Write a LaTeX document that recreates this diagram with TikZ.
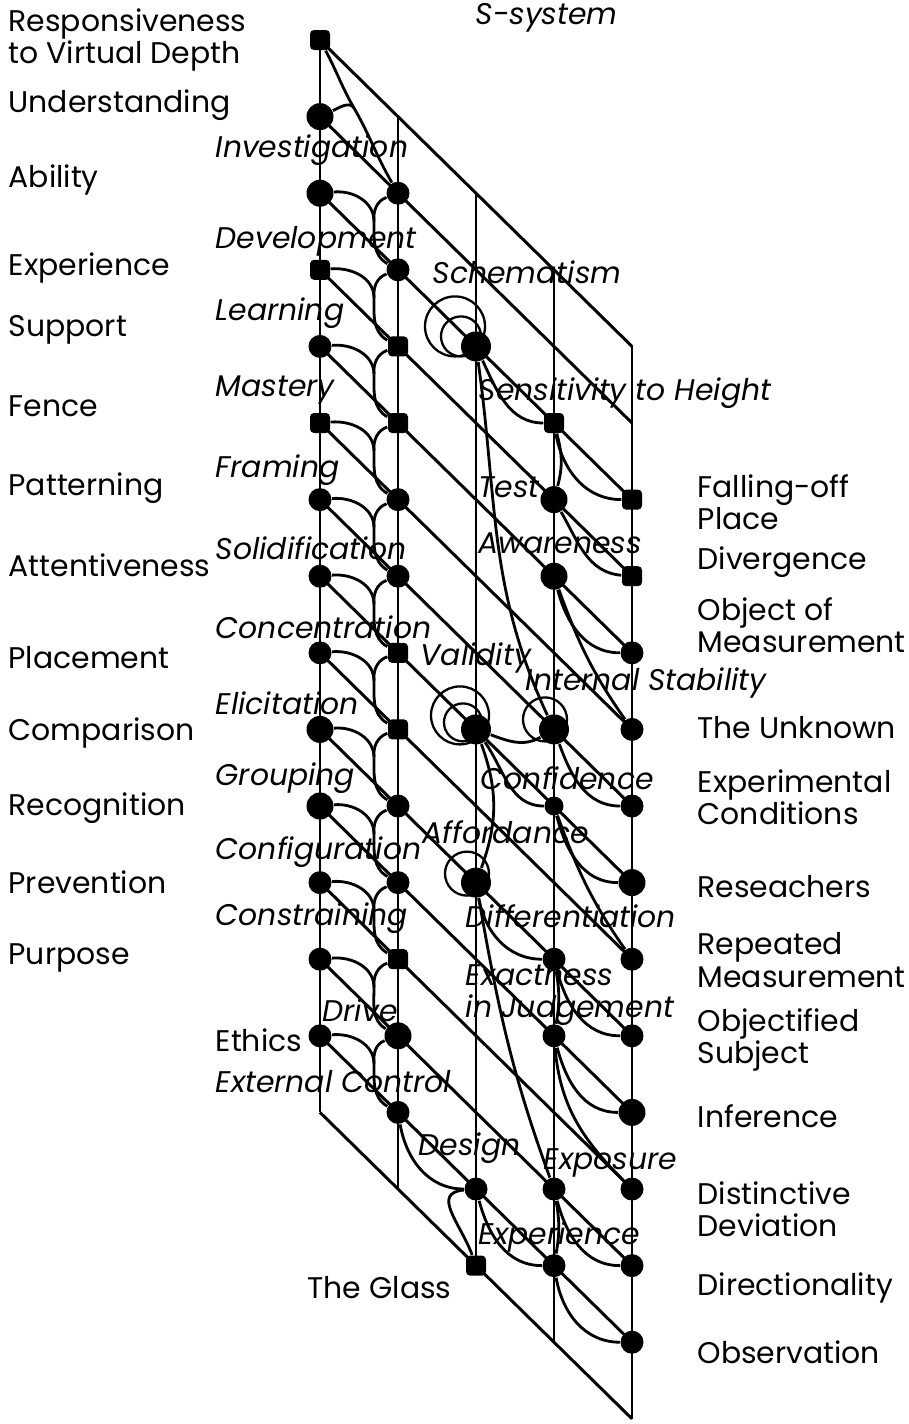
\documentclass[tikz,border=0pt]{standalone}
\usepackage{fontspec}
\setmainfont{Poppins}

\tikzset{
  grid line/.style={line width=0.85pt},
  wire/.style={line width=0.8pt},
  ring/.style={line width=0.65pt},
  dot/.style={circle,fill=black,inner sep=0pt,minimum size=2.3mm},
  big/.style={dot,minimum size=2.7mm},
  hub/.style={dot,minimum size=3mm},
  sq/.style={rectangle,fill=black,inner sep=0pt,minimum size=2mm,rounded corners=0.4mm},
  lab/.style={font=\fontsize{8.5}{9.2}\selectfont,inner sep=0pt,anchor=west,align=left},
  ilab/.style={lab,font=\fontsize{8.5}{9.2}\selectfont\itshape},
}

\begin{document}
\begin{tikzpicture}[x=0.1mm,y=0.1mm]
	\useasboundingbox (0,0) rectangle (909,-1424);
	% lattice: column \i, level \k
	\foreach \i in {0,...,4}
	  \foreach \k in {0,...,18}
	    \coordinate (g\i-\k) at ({320+78*\i},{-40-76.6*\k});
	% the sheared frame
	\foreach \i in {0,...,4} {
	  \pgfmathtruncatemacro{\e}{\i+14}
	  \draw[grid line] (g\i-\i) -- (g\i-\e);
	}
	\foreach \k in {0,...,14} {
	  \pgfmathtruncatemacro{\e}{\k+4}
	  \draw[grid line] (g0-\k) -- (g4-\e);
	}

	% left column and second column
	\foreach \k/\st in {0/sq,1/big,2/big,3/sq,4/dot,5/sq,6/dot,7/dot,8/dot,9/big,10/big,11/dot,12/dot,13/dot}
	  \node[\st] (a\k) at (g0-\k) {};
	\foreach \k/\st in {2/dot,3/dot,4/sq,5/sq,6/dot,7/dot,8/sq,9/sq,10/dot,11/dot,12/sq,13/big,14/dot}
	  \node[\st] (b\k) at (g1-\k) {};

	% middle column
	\node[hub] (schem) at (g2-4) {};
	\node[hub] (valid) at (g2-9) {};
	\node[hub] (afford) at (g2-11) {};
	\node[dot] (design) at (g2-15) {};
	\node[sq] (glass) at (g2-16) {};
	% fourth column
	\node[sq] (sens) at (g3-5) {};
	\node[big] (test) at (g3-6) {};
	\node[big] (aware) at (g3-7) {};
	\node[hub] (intstab) at (g3-9) {};
	\node[dot,minimum size=1.9mm] (conf) at (g3-10) {};
	\node[dot] (exact) at (g3-12) {};
	\node[dot] (judge) at (g3-13) {};
	\node[dot] (expo) at (g3-15) {};
	\node[dot] (exper) at (g3-16) {};
	% right column
	\node[sq] (fall) at (g4-6) {};
	\node[sq] (diverg) at (g4-7) {};
	\node[dot] (objmeas) at (g4-8) {};
	\node[dot] (unknown) at (g4-9) {};
	\node[dot] (expcond) at (g4-10) {};
	\node[big] (resea) at (g4-11) {};
	\node[dot] (repeat) at (g4-12) {};
	\node[dot] (objsubj) at (g4-13) {};
	\node[big] (infer) at (g4-14) {};
	\node[dot] (distdev) at (g4-15) {};
	\node[dot] (direct) at (g4-16) {};
	\node[dot] (observ) at (g4-17) {};

	% rings
	\draw[ring] (schem) ++(-21,20) circle (30);
	\draw[ring] (schem) ++(-15,10) circle (20);
	\draw[ring] (valid) ++(-16,14) circle (29);
	\draw[ring] (valid) ++(-13,7) circle (19);
	\draw[ring] (intstab) ++(-9,10) circle (22);
	\draw[ring] (afford) ++(-9,9) circle (22);

	% left strands, merging before each node of the second column
	\coordinate (j2) at (354,-108);
	\draw[wire] (a0) to[out=-62,in=120] (j2);
	\draw[wire] (a1) to[out=25,in=125] (j2);
	\draw[wire] (j2) to[out=-60,in=120] (b2);
	\foreach \k in {2,...,13} {
	  \pgfmathtruncatemacro{\nx}{\k+1}
	  \coordinate (j\nx) at (374,{-40-76.6*\k-28});
	  \draw[wire] (a\k) to[out=5,in=90] (j\nx);
	  \draw[wire] (b\k) to[out=200,in=95] (j\nx);
	  \draw[wire] (j\nx) to[out=-90,in=150] (b\nx);
	}
	\draw[wire] (b14) to[out=-80,in=180] (design);
	\draw[wire] (design) to[out=185,in=110,looseness=1.3] (glass);
	\draw[wire] (design) to[out=-75,in=180] (exper);

	% right strands
	\draw[wire] (schem) to[out=-65,in=180] (sens);
	\draw[wire] (schem) to[out=-82,in=115] (intstab);
	\draw[wire] (sens) to[out=-80,in=180] (fall);
	\draw[wire] (sens) to[out=-75,in=75] (test);
	\draw[wire] (test) to[out=-60,in=175] (diverg);
	\draw[wire] (aware) to[out=-75,in=180] (objmeas);
	\draw[wire] (aware) to[out=-70,in=125] (unknown);
	\draw[wire] (valid) to[out=-20,in=-150] (intstab);
	\draw[wire] (valid) to[out=-55,in=180] (conf);
	\draw[wire] (valid) to[out=-70,in=70] (afford);
	\draw[wire] (intstab) to[out=-70,in=180] (expcond);
	\draw[wire] (conf) to[out=-75,in=180] (resea);
	\draw[wire] (conf) to[out=-70,in=125] (repeat);
	\draw[wire] (afford) to[out=-80,in=180] (exact);
	\draw[wire] (afford) to[out=-80,in=110] (expo);
	\draw[wire] (exact) to[out=-75,in=180] (objsubj);
	\draw[wire] (exact) to[out=-80,in=80] (judge);
	\draw[wire] (judge) to[out=-75,in=180] (infer);
	\draw[wire] (judge) to[out=-85,in=135] (distdev);
	\draw[wire] (expo) to[out=-75,in=180] (direct);
	\draw[wire] (expo) to[out=-80,in=80] (exper);
	\draw[wire] (exper) to[out=-80,in=180] (observ);

	% labels on the left
	\node[lab] (tResp) at (8,-40) {Responsiveness\\to Virtual Depth};
	\node[lab] (tUnder) at (8,-105) {Understanding};
	\node[lab] (tAbil) at (8,-180) {Ability};
	\node[lab] (tExp) at (8,-268) {Experience};
	\node[lab] (tSupp) at (8,-330) {Support};
	\node[lab] (tFence) at (8,-406) {Fence};
	\node[lab] (tPatt) at (8,-488) {Patterning};
	\node[lab] (tAtt) at (8,-565) {Attentiveness};
	\node[lab] (tPlac) at (8,-658) {Placement};
	\node[lab] (tComp) at (8,-733) {Comparison};
	\node[lab] (tReco) at (8,-808) {Recognition};
	\node[lab] (tPrev) at (8,-882) {Prevention};
	\node[lab] (tPurp) at (8,-958) {Purpose};
	\node[lab] (tEthi) at (215,-1040) {Ethics};
	\node[lab] (tGlass) at (307,-1288) {The Glass};

	% italic labels
	\node[ilab] (tSsys) at (475,-18) {S-system};
	\node[ilab] (tInve) at (215,-150) {Investigation};
	\node[ilab] (tDeve) at (215,-241) {Development};
	\node[ilab] (tLear) at (215,-313) {Learning};
	\node[ilab] (tMast) at (215,-390) {Mastery};
	\node[ilab] (tFram) at (215,-470) {Framing};
	\node[ilab] (tSoli) at (215,-548) {Solidification};
	\node[ilab] (tConc) at (215,-627) {Concentration};
	\node[ilab] (tElic) at (215,-703) {Elicitation};
	\node[ilab] (tGrou) at (215,-778) {Grouping};
	\node[ilab] (tConfig) at (215,-852) {Configuration};
	\node[ilab] (tCons) at (215,-918) {Constraining};
	\node[ilab] (tDriv) at (322,-1010) {Drive};
	\node[ilab] (tExtC) at (215,-1082) {External Control};
	\node[ilab] (tSche) at (432,-272) {Schematism};
	\node[ilab] (tSens) at (478,-393) {Sensitivity to Height};
	\node[ilab] (tTest) at (478,-487) {Test};
	\node[ilab] (tAwar) at (478,-543) {Awareness};
	\node[ilab] (tVali) at (420,-658) {Validity};
	\node[ilab] (tInSt) at (525,-683) {Internal Stability};
	\node[ilab] (tConfi) at (480,-778) {Confidence};
	\node[ilab] (tAffo) at (422,-832) {Affordance};
	\node[ilab] (tDiff) at (465,-916) {Differentiation};
	\node[ilab] (tExac) at (465,-995) {Exactness\\in Judgement};
	\node[ilab] (tDesi) at (418,-1148) {Design};
	\node[ilab] (tExpo) at (543,-1163) {Exposure};
	\node[ilab] (tExpe) at (478,-1237) {Experience};

	% labels on the right
	\node[lab] (tFall) at (697,-502) {Falling-off\\Place};
	\node[lab] (tDive) at (697,-562) {Divergence};
	\node[lab] (tObjM) at (697,-625) {Object of\\Measurement};
	\node[lab] (tUnkn) at (697,-728) {The Unknown};
	\node[lab] (tExpC) at (697,-797) {Experimental\\Conditions};
	\node[lab] (tRese) at (697,-887) {Reseachers};
	\node[lab] (tRepM) at (697,-960) {Repeated\\Measurement};
	\node[lab] (tObjS) at (697,-1040) {Objectified\\Subject};
	\node[lab] (tInfe) at (697,-1116) {Inference};
	\node[lab] (tDist) at (697,-1209) {Distinctive\\Deviation};
	\node[lab] (tDire) at (697,-1288) {Directionality};
	\node[lab] (tObse) at (697,-1352) {Observation};
\end{tikzpicture}
\end{document}
